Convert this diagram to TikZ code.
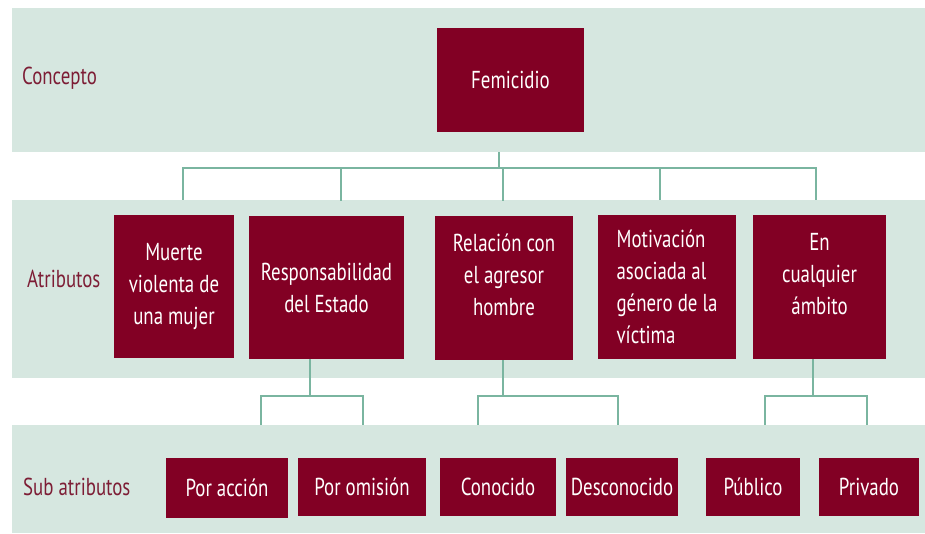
\documentclass[tikz,border=0pt]{standalone}
\usepackage{fontspec}
\setmainfont{PT Sans}[FakeStretch=0.77]
\definecolor{vino}{HTML}{820024}
\definecolor{banda}{HTML}{D6E7E0}
\definecolor{linea}{HTML}{7AB5A0}
\definecolor{rotulo}{HTML}{7D1D35}

\begin{document}
\begin{tikzpicture}[x=1pt,y=-1pt,
  every node/.style={font=\fontsize{24.5}{32}\selectfont},
  caja/.style={fill=vino,text=white,inner sep=0pt,align=center},
  nombre/.style={text=rotulo,anchor=west,inner sep=0pt},
  rama/.style={draw=linea,line width=2.5pt}]
\useasboundingbox (0,0) rectangle (925,533);

\fill[banda] (12,8) rectangle (925,152);
\fill[banda] (12,200) rectangle (925,378);
\fill[banda] (12,425) rectangle (925,533);

\node[nombre] (concepto) at (22,78) {Concepto};
\node[nombre] (atributos) at (27,279) {Atributos};
\node[nombre] (subatributos) at (23,487) {Sub atributos};

\node[caja,minimum width=147pt,minimum height=104pt] (fem) at (510.5,80) {Femicidio};

\node[caja,minimum width=120pt,minimum height=143pt] (muerte) at (174,286.5) {Muerte\\violenta de\\una mujer};
\node[caja,minimum width=155pt,minimum height=143pt] (resp) at (326.5,287.5) {Responsabilidad\\del Estado};
\node[caja,minimum width=138pt,minimum height=144pt] (rel) at (504,288) {Relación con\\el agresor\\hombre\\[-6pt] \mbox{}};
\node[caja,minimum width=138pt,minimum height=144pt,align=left] (motiv) at (667,287) {Motivación\\asociada al\\género de la\\víctima};
\node[caja,minimum width=133pt,minimum height=144pt] (ambito) at (819.5,287) {En\\cualquier\\ámbito\\[-6pt] \mbox{}};

\node[caja,minimum width=122pt,minimum height=60pt] (accion) at (227,488) {Por acción};
\node[caja,minimum width=128pt,minimum height=58pt] (omision) at (362,487) {Por omisión};
\node[caja,minimum width=116pt,minimum height=58pt] (conocido) at (498,487) {Conocido};
\node[caja,minimum width=112pt,minimum height=58pt] (descon) at (622,487) {Desconocido};
\node[caja,minimum width=94pt,minimum height=58pt] (publico) at (753,487) {Público};
\node[caja,minimum width=100pt,minimum height=58pt] (privado) at (869,487) {Privado};

\draw[rama,shorten <=20pt,shorten >=15pt] ([xshift=-11.5pt]fem.south) -- ++(0,36) -| ([xshift=9pt]muerte.north);
\draw[rama,shorten <=20pt,shorten >=15pt] ([xshift=-11.5pt]fem.south) -- ++(0,36) -| ([xshift=14.5pt]resp.north);
\draw[rama,shorten <=20pt,shorten >=15pt] ([xshift=-11.5pt]fem.south) -- ++(0,36) -| ([xshift=-1pt]rel.north);
\draw[rama,shorten <=20pt,shorten >=15pt] ([xshift=-11.5pt]fem.south) -- ++(0,36) -| ([xshift=-7pt]motiv.north);
\draw[rama,shorten <=20pt,shorten >=15pt] ([xshift=-11.5pt]fem.south) -- ++(0,36) -| ([xshift=-3.5pt]ambito.north);

\draw[rama,shorten >=33pt] ([xshift=-16.5pt]resp.south) -- ++(0,37) -| ([xshift=34pt]accion.north);
\draw[rama,shorten >=33pt] ([xshift=-16.5pt]resp.south) -- ++(0,37) -| ([xshift=1pt]omision.north);
\draw[rama,shorten >=33pt] ([xshift=-1pt]rel.south) -- ++(0,36) -| ([xshift=-20pt]conocido.north);
\draw[rama,shorten >=33pt] ([xshift=-1pt]rel.south) -- ++(0,36) -| ([xshift=-4pt]descon.north);
\draw[rama,shorten >=33pt] ([xshift=-6.5pt]ambito.south) -- ++(0,37) -| ([xshift=12pt]publico.north);
\draw[rama,shorten >=33pt] ([xshift=-6.5pt]ambito.south) -- ++(0,37) -| ([xshift=-2pt]privado.north);
\end{tikzpicture}
\end{document}
